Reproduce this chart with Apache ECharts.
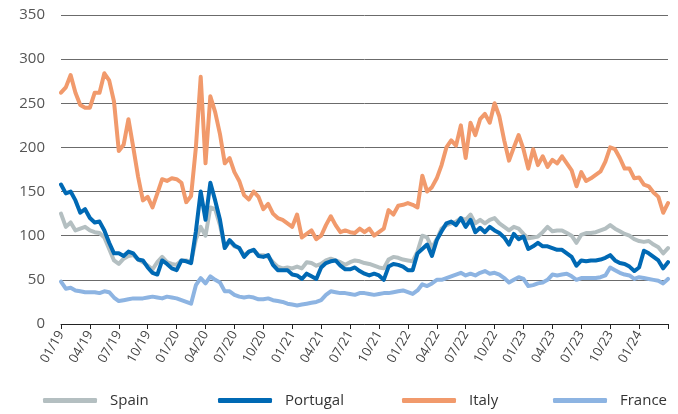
<!DOCTYPE html>
<html>
<head>
<meta charset="utf-8">
<script src="https://cdn.jsdelivr.net/npm/echarts@6/dist/echarts.min.js"></script>
<style>
  html, body { margin: 0; padding: 0; background: #fff; }
  #chart { width: 678px; height: 414px; }
</style>
</head>
<body>
<div id="chart"></div>
<script>
// twice a month, from 01/19 to 04/24
const spain = [
  125, 110, 115, 106, 108, 110, 106, 104, 103, 98, 85, 72, 68, 74, 77, 78, 73, 70, 66, 62,
  70, 76, 70, 68, 67, 72, 72, 70, 96, 110, 100, 132, 130, 112, 86, 94, 88, 86, 78, 82,
  84, 78, 78, 76, 70, 65, 63, 64, 63, 65, 63, 70, 69, 66, 68, 72, 74, 72, 70, 67,
  70, 72, 71, 69, 68, 66, 64, 63, 73, 76, 75, 73, 72, 71, 82, 100, 98, 86, 96, 108,
  112, 114, 116, 120, 118, 124, 114, 118, 114, 118, 120, 114, 110, 106, 110, 108, 102, 97, 98, 99,
  104, 110, 105, 106, 106, 103, 100, 92, 101, 103, 103, 104, 106, 108, 112, 108, 105, 102, 100, 96,
  94, 93, 94, 90, 87, 80, 86
];
const portugal = [
  158, 148, 150, 140, 126, 130, 120, 115, 116, 106, 92, 80, 80, 77, 82, 80, 73, 72, 64, 58,
  56, 72, 68, 63, 61, 72, 71, 69, 105, 150, 118, 160, 140, 118, 86, 95, 89, 86, 76, 82,
  84, 77, 76, 78, 67, 61, 61, 61, 56, 55, 51, 57, 54, 51, 64, 69, 71, 72, 66, 62,
  62, 64, 60, 57, 55, 57, 55, 50, 65, 68, 67, 65, 61, 61, 80, 85, 90, 77, 95, 105,
  114, 116, 112, 120, 110, 118, 104, 109, 104, 110, 106, 103, 98, 90, 102, 96, 99, 85, 88, 92,
  88, 88, 86, 84, 84, 80, 76, 66, 72, 71, 72, 72, 73, 75, 78, 72, 69, 68, 65, 60,
  64, 83, 80, 76, 72, 63, 70
];
const italy = [
  262, 268, 282, 262, 248, 245, 245, 262, 262, 284, 276, 252, 196, 203, 232, 200, 167, 140, 144, 132,
  148, 164, 162, 165, 164, 160, 138, 145, 200, 280, 182, 258, 240, 215, 182, 188, 172, 162, 146, 141,
  150, 144, 130, 136, 125, 120, 118, 114, 110, 124, 98, 102, 106, 96, 100, 112, 122, 112, 104, 106,
  104, 103, 108, 104, 108, 100, 104, 108, 129, 124, 134, 135, 137, 135, 132, 168, 150, 155, 165, 180,
  200, 208, 202, 225, 188, 228, 214, 232, 238, 228, 250, 235, 208, 185, 200, 214, 198, 176, 198, 180,
  190, 178, 186, 182, 190, 182, 174, 156, 172, 162, 165, 169, 173, 184, 200, 198, 188, 176, 176, 165,
  166, 158, 156, 149, 144, 126, 137
];
const france = [
  48, 40, 41, 38, 37, 36, 36, 36, 35, 37, 36, 30, 26, 27, 28, 29, 29, 29, 30, 31,
  30, 29, 31, 30, 29, 27, 25, 23, 44, 52, 46, 54, 50, 47, 37, 37, 33, 31, 30, 31,
  30, 28, 28, 29, 27, 26, 25, 23, 22, 21, 22, 23, 24, 25, 27, 33, 37, 36, 35, 35,
  34, 33, 35, 35, 34, 33, 34, 35, 35, 36, 37, 38, 36, 34, 38, 45, 43, 46, 50, 50,
  52, 54, 56, 58, 55, 57, 55, 58, 60, 57, 58, 56, 52, 47, 50, 53, 51, 43, 44, 46,
  47, 50, 56, 55, 56, 57, 54, 50, 52, 52, 52, 52, 53, 55, 64, 61, 58, 56, 55, 51,
  53, 52, 51, 50, 49, 46, 51
];
const yTicks = [0, 50, 100, 150, 200, 250, 300, 350];
const names = ['Spain', 'Portugal', 'Italy', 'France'];
const colors = ['#b4bfc1', '#0069b4', '#f19a6c', '#8db4e2'];

// category per half month, quarter starts get a MM/YY label
const dates = [];
for (let y = 2019; dates.length < spain.length; y++) {
    for (let m = 1; m <= 12 && dates.length < spain.length; m++) {
        const mm = (m < 10 ? '0' : '') + m;
        const yy = String(y).slice(2);
        dates.push(mm + '/' + yy);
        if (dates.length < spain.length) dates.push(mm + '/' + yy + 'b');
    }
}
const lastIdx = dates.length - 1;

const font = '"Open Sans", "Noto Sans", sans-serif';
const legendLeft = [43, 218, 402, 553];

const chart = echarts.init(document.getElementById('chart'));
chart.setOption({
    animation: false,
    textStyle: { fontFamily: font },
    grid: { left: 61, right: 10, top: 15, bottom: 90 },
    legend: names.map((n, i) => ({
        data: [n],
        left: legendLeft[i],
        top: 393,
        padding: 0,
        icon: 'roundRect',
        itemWidth: 54,
        itemHeight: 5,
        textStyle: { fontSize: 15, color: '#333', padding: [0, 0, 0, 8], fontFamily: font }
    })),
    xAxis: {
        type: 'category',
        data: dates,
        boundaryGap: false,
        axisLine: { lineStyle: { color: '#222', width: 1 } },
        axisTick: {
            interval: (idx) => idx % 6 === 0,
            length: 5,
            lineStyle: { color: '#222' }
        },
        axisLabel: {
            interval: (idx) => idx % 6 === 0 && idx < lastIdx,
            rotate: 60,
            margin: 8,
            fontSize: 13,
            color: '#444',
            fontFamily: font
        },
        splitLine: { show: false }
    },
    yAxis: {
        type: 'value',
        min: yTicks[0],
        max: yTicks[yTicks.length - 1],
        interval: 50,
        axisLine: { show: false },
        axisTick: { show: false },
        axisLabel: { margin: 16, fontSize: 15, color: '#555', fontFamily: font },
        splitLine: { lineStyle: { color: '#6b6b6b', width: 1 } }
    },
    series: [spain, portugal, italy, france].map((d, i) => ({
        name: names[i],
        type: 'line',
        data: d,
        showSymbol: false,
        symbol: 'none',
        color: colors[i],
        lineStyle: { width: 4, color: colors[i], join: 'round', cap: 'round' },
        z: 2 + i
    }))
});
</script>
</body>
</html>
